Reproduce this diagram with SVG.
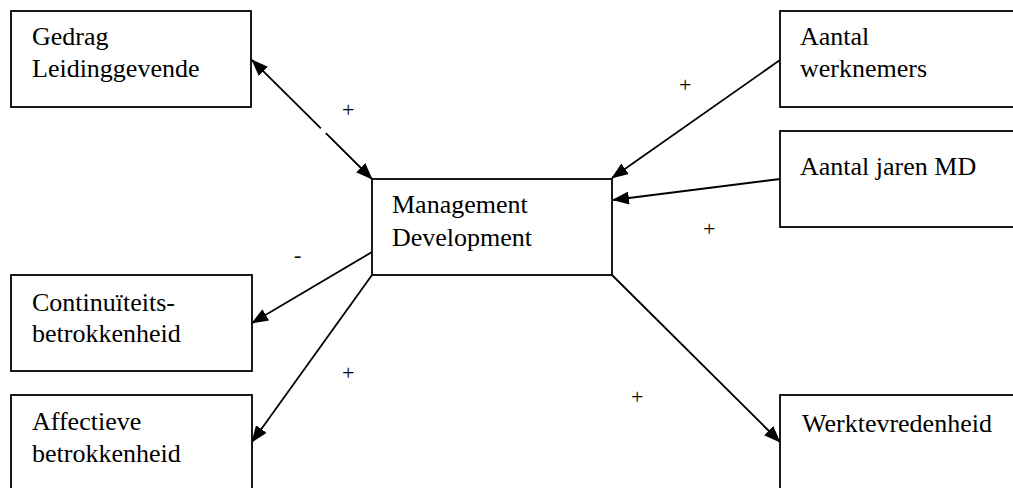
<svg xmlns="http://www.w3.org/2000/svg" width="1013" height="488" viewBox="0 0 1013 488">
<style>
.box{fill:#fff;stroke:#000;stroke-width:1.8}
.c{fill:none;stroke:#000;stroke-width:1.8}
</style>
<defs>
<marker id="ah" viewBox="0 0 17 13" refX="16" refY="6.5" markerWidth="17" markerHeight="13" markerUnits="userSpaceOnUse" orient="auto-start-reverse">
<path d="M0,0 L17,6.5 L0,13 z" fill="#000"/>
</marker>
</defs>
<rect width="1013" height="488" fill="#fff"/>
<g id="connectors">
<path class="c" d="M252,60 L372,179" stroke-dasharray="97 7 200" marker-start="url(#ah)" marker-end="url(#ah)"/>
<path class="c" d="M780,60 L612,178" marker-end="url(#ah)"/>
<path class="c" d="M780,179 L613,200" marker-end="url(#ah)"/>
<path class="c" d="M372,252 L252,323" marker-end="url(#ah)"/>
<path class="c" d="M372,275 L252,442" marker-end="url(#ah)"/>
<path class="c" d="M612,275 L780,442" marker-end="url(#ah)"/>
<g font-family="Liberation Serif, Times New Roman, serif" font-size="22" fill="#000">
<text x="342" y="117">+</text>
<text x="679" y="92">+</text>
<text x="703" y="236">+</text>
<text x="294" y="262">-</text>
<text x="342" y="380">+</text>
<text x="631" y="404">+</text>
</g>
</g>
<g font-family="Liberation Serif, Times New Roman, serif" font-size="26" fill="#000">
<g id="gedrag">
<rect class="box" x="11" y="11" width="240" height="96"/>
<text x="32" y="45">Gedrag</text>
<text x="32" y="77">Leidinggevende</text>
</g>
<g id="md">
<rect class="box" x="372" y="179" width="240" height="96"/>
<text x="392" y="213">Management</text>
<text x="392" y="246">Development</text>
</g>
<g id="werknemers">
<rect class="box" x="780" y="11" width="250" height="96"/>
<text x="800" y="45">Aantal</text>
<text x="800" y="77">werknemers</text>
</g>
<g id="jaren">
<rect class="box" x="780" y="131" width="250" height="96"/>
<text x="800" y="175">Aantal jaren MD</text>
</g>
<g id="continuiteit">
<rect class="box" x="11" y="275" width="241" height="96"/>
<text x="32" y="311">Continuïteits-</text>
<text x="32" y="342">betrokkenheid</text>
</g>
<g id="affectief">
<rect class="box" x="11" y="395" width="241" height="110"/>
<text x="32" y="430">Affectieve</text>
<text x="32" y="462">betrokkenheid</text>
</g>
<g id="werktevredenheid">
<rect class="box" x="780" y="395" width="250" height="110"/>
<text x="802" y="432">Werktevredenheid</text>
</g>
</g>
</svg>
